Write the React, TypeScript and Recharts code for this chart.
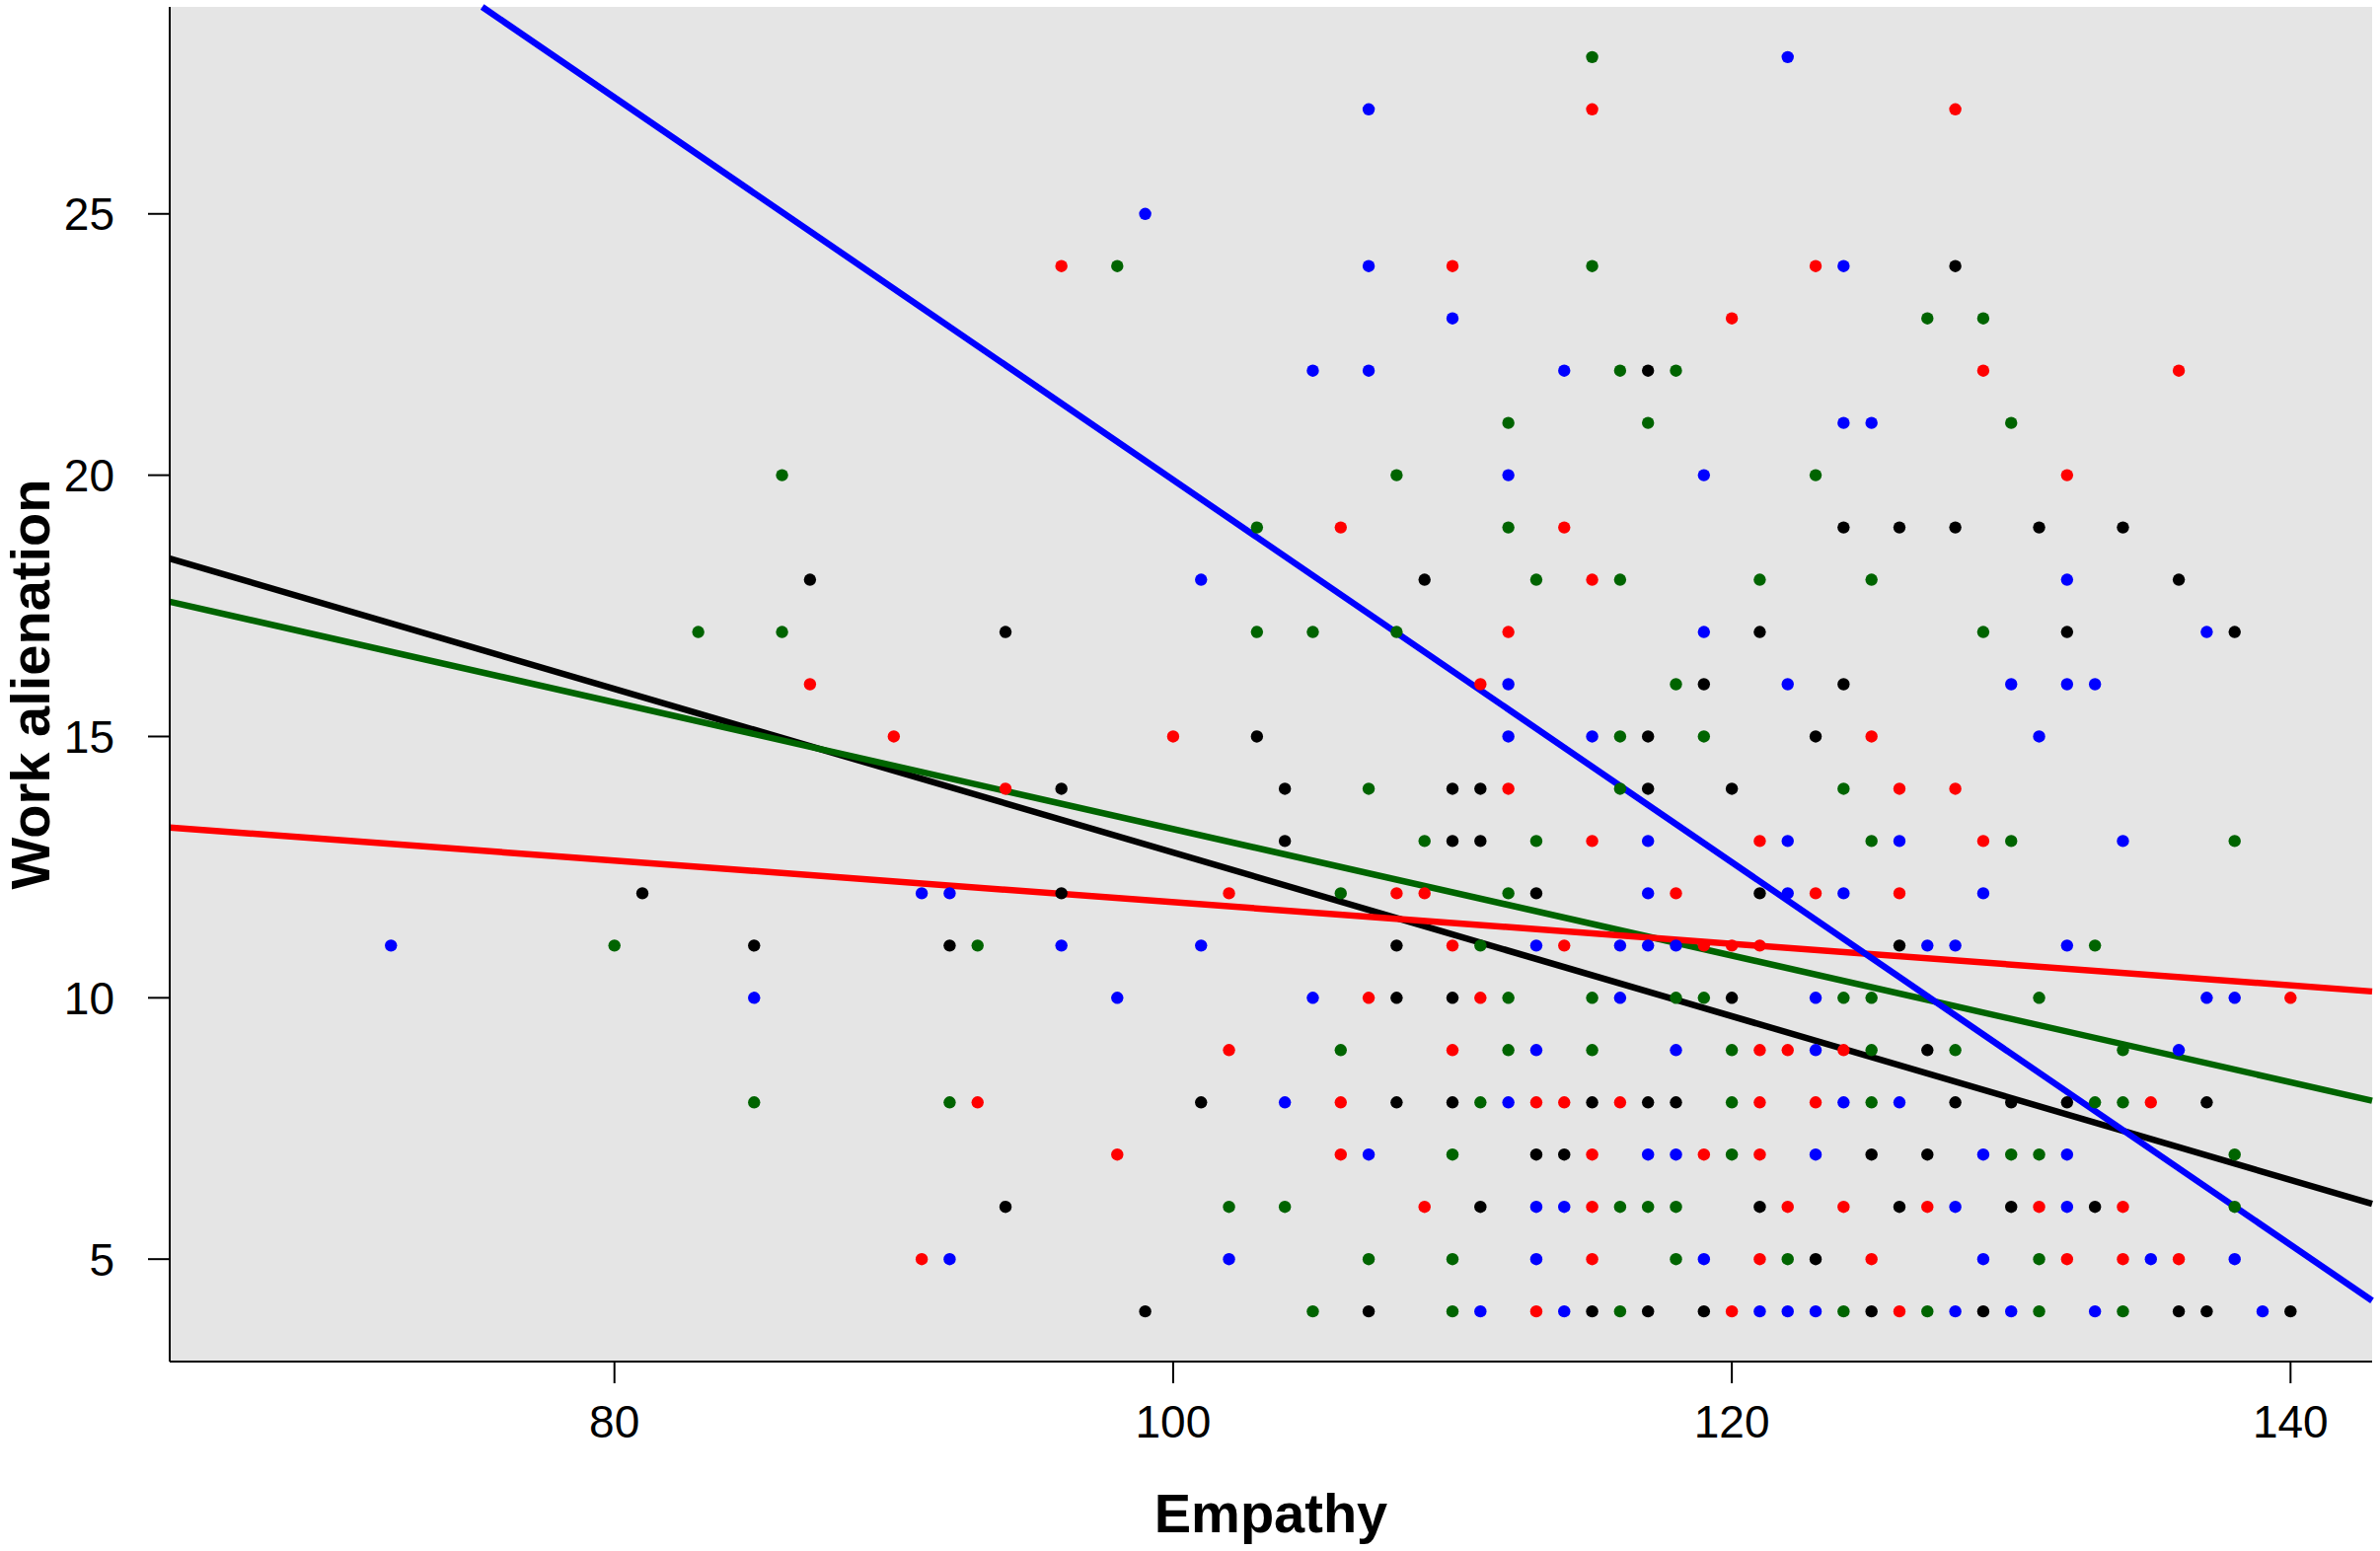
import React from 'react';
import { ScatterChart, Scatter, XAxis, YAxis, ReferenceArea, ReferenceLine } from 'recharts';

// Empathy (x) and work alienation (y) per group
const blackPts: [number, number][] = [
  [81, 12], [85, 11], [87, 18], [92, 11], [94, 17], [94, 6], [96, 14], [96, 12], [99, 4],
  [103, 15], [109, 18],
  [117, 22], [124, 19], [126, 19], [121, 17], [119, 16], [124, 16], [117, 15], [123, 15],
  [128, 24], [128, 19], [131, 19], [134, 19], [136, 18], [132, 17], [138, 17],
  [104, 14], [110, 14], [104, 13], [110, 13], [108, 11], [108, 10], [110, 10], [101, 8], [108, 8], [110, 8], [107, 4],
  [111, 14], [117, 14], [120, 14], [111, 13], [113, 12], [120, 10], [115, 8], [117, 8], [118, 8], [113, 7], [114, 7], [111, 6], [115, 4], [117, 4], [119, 4],
  [121, 12], [126, 11], [127, 9], [128, 8], [130, 8], [125, 7], [127, 7], [121, 6], [126, 6], [130, 6], [123, 5], [125, 4], [129, 4],
  [132, 8], [137, 8], [133, 6], [136, 4], [137, 4], [140, 4],
];

const greenPts: [number, number][] = [
  [80, 11], [83, 17], [86, 20], [86, 17], [85, 8], [92, 8], [93, 11], [98, 24],
  [112, 21], [108, 20], [103, 19], [112, 19], [113, 18], [103, 17], [105, 17], [108, 17],
  [115, 28], [115, 24], [127, 23], [116, 22], [118, 22], [117, 21], [123, 20], [116, 18], [121, 18], [125, 18], [118, 16], [116, 15], [119, 15],
  [129, 23], [130, 21], [129, 17],
  [107, 14], [109, 13], [106, 12], [106, 9], [110, 7], [102, 6], [104, 6], [107, 5], [110, 5], [105, 4], [110, 4],
  [116, 14], [113, 13], [112, 12], [111, 11], [112, 10], [115, 10], [118, 10], [119, 10], [112, 9], [115, 9], [120, 9], [111, 8], [120, 8], [120, 7], [116, 6], [117, 6], [118, 6], [118, 5], [116, 4],
  [124, 14], [125, 13], [130, 13], [124, 10], [125, 10], [125, 9], [128, 9], [125, 8], [130, 7], [122, 5], [124, 4], [127, 4],
  [138, 13], [133, 11], [131, 10], [134, 9], [133, 8], [134, 8], [131, 7], [138, 7], [138, 6], [131, 5], [131, 4], [134, 4],
];

const redPts: [number, number][] = [
  [87, 16], [90, 15], [91, 5], [93, 8], [94, 14], [96, 24], [98, 7], [100, 15],
  [110, 24], [106, 19], [112, 17], [111, 16],
  [115, 27], [123, 24], [120, 23], [114, 19], [115, 18], [125, 15],
  [128, 27], [129, 22], [136, 22], [132, 20],
  [102, 12], [108, 12], [109, 12], [110, 11], [107, 10], [102, 9], [110, 9], [106, 8], [106, 7], [109, 6],
  [112, 14], [115, 13], [118, 12], [114, 11], [119, 11], [120, 11], [111, 10], [113, 8], [114, 8], [116, 8], [115, 7], [119, 7], [115, 6], [115, 5], [113, 4], [120, 4],
  [126, 14], [128, 14], [121, 13], [129, 13], [123, 12], [126, 12], [121, 11], [121, 9], [122, 9], [124, 9], [121, 8], [123, 8], [121, 7], [122, 6], [124, 6], [127, 6], [121, 5], [125, 5], [126, 4],
  [140, 10], [135, 8], [131, 6], [134, 6], [132, 5], [134, 5], [136, 5],
];

const bluePts: [number, number][] = [
  [72, 11], [85, 10], [91, 12], [92, 12], [92, 5], [96, 11], [98, 10], [99, 25],
  [107, 27], [107, 24], [110, 23], [105, 22], [107, 22], [112, 20], [101, 18], [112, 16], [112, 15],
  [122, 28], [124, 24], [114, 22], [124, 21], [125, 21], [119, 20], [119, 17], [122, 16], [115, 15],
  [132, 18], [137, 17], [130, 16], [132, 16], [133, 16], [131, 15],
  [101, 11], [105, 10], [104, 8], [107, 7], [102, 5],
  [117, 13], [117, 12], [113, 11], [116, 11], [117, 11], [118, 11], [116, 10], [113, 9], [118, 9], [112, 8], [117, 7], [118, 7], [113, 6], [114, 6], [113, 5], [119, 5], [111, 4], [114, 4],
  [122, 13], [126, 13], [122, 12], [124, 12], [129, 12], [127, 11], [128, 11], [123, 10], [123, 9], [124, 8], [126, 8], [123, 7], [129, 7], [128, 6], [129, 5], [121, 4], [122, 4], [123, 4], [128, 4], [130, 4],
  [134, 13], [132, 11], [137, 10], [138, 10], [136, 9], [132, 7], [132, 6], [135, 5], [138, 5], [133, 4], [139, 4],
];

// regression lines: [intercept, slope]
const blackFit: [number, number] = [28.44, -0.1566];
const greenFit: [number, number] = [25.34, -0.1211];
const redFit: [number, number] = [15.81, -0.0398];
const blueFit: [number, number] = [56.5, -0.3659];

const X_DOMAIN: [number, number] = [64.08, 142.92];
const Y_DOMAIN: [number, number] = [3.04, 28.96];
const X_TICKS = [80, 100, 120, 140];
const Y_TICKS = [5, 10, 15, 20, 25];

const toObjs = (pts: [number, number][]) => pts.map(([x, y]) => ({ x, y }));

function clipFit([a, b]: [number, number]) {
  let xs = X_DOMAIN[0];
  let xe = X_DOMAIN[1];
  if (b !== 0) {
    const xa = (Y_DOMAIN[0] - a) / b;
    const xb = (Y_DOMAIN[1] - a) / b;
    xs = Math.max(xs, Math.min(xa, xb));
    xe = Math.min(xe, Math.max(xa, xb));
  }
  return [
    { x: xs, y: a + b * xs },
    { x: xe, y: a + b * xe },
  ];
}

const FONT = '"Liberation Sans", Arial, Helvetica, sans-serif';

const dot = (color: string) => (props: any) => (
  <circle cx={props.cx} cy={props.cy} r={6.2} fill={color} stroke="none" />
);

const YTitle = (props: any) => {
  const vb = props.viewBox || {};
  const cy = (vb.y ?? 7) + (vb.height ?? 1373) / 2;
  const x = 50;
  return (
    <text
      x={x}
      y={cy}
      transform={`rotate(-90, ${x}, ${cy})`}
      textAnchor="middle"
      fontFamily={FONT}
      fontWeight="bold"
      fontSize={56}
      fill="#000"
    >
      Work alienation
    </text>
  );
};

const XTitle = (props: any) => {
  const vb = props.viewBox || {};
  const cx = (vb.x ?? 172) + (vb.width ?? 2232) / 2;
  return (
    <text x={cx} y={1553} textAnchor="middle" fontFamily={FONT} fontWeight="bold" fontSize={56} fill="#000">
      Empathy
    </text>
  );
};

export default function App() {
  const tickStyle = { fill: '#000', fontSize: 46, fontFamily: FONT };
  return (
    <div style={{ position: 'absolute', left: 0, top: 0, width: 2412, height: 1572, background: '#fff' }}>
      <ScatterChart width={2412} height={1572} margin={{ top: 7, right: 8, bottom: 0, left: 0 }}>
        <ReferenceArea
          x1={X_DOMAIN[0]}
          x2={X_DOMAIN[1]}
          y1={Y_DOMAIN[0]}
          y2={Y_DOMAIN[1]}
          fill="#e5e5e5"
          fillOpacity={1}
          stroke="none"
          ifOverflow="visible"
        />
        <XAxis
          type="number"
          dataKey="x"
          domain={X_DOMAIN}
          ticks={X_TICKS}
          allowDataOverflow
          height={192}
          tickSize={22}
          tickMargin={22}
          tick={tickStyle}
          tickLine={{ stroke: '#000', strokeWidth: 2 }}
          axisLine={{ stroke: '#000', strokeWidth: 2 }}
          label={<XTitle />}
        />
        <YAxis
          type="number"
          dataKey="y"
          domain={Y_DOMAIN}
          ticks={Y_TICKS}
          allowDataOverflow
          width={172}
          tickSize={22}
          tickMargin={34}
          tick={tickStyle}
          tickLine={{ stroke: '#000', strokeWidth: 2 }}
          axisLine={{ stroke: '#000', strokeWidth: 2 }}
          label={<YTitle />}
        />
        <Scatter data={toObjs(blackPts)} shape={dot('#000000')} isAnimationActive={false} />
        <Scatter data={toObjs(greenPts)} shape={dot('#006400')} isAnimationActive={false} />
        <Scatter data={toObjs(redPts)} shape={dot('#ff0000')} isAnimationActive={false} />
        <Scatter data={toObjs(bluePts)} shape={dot('#0000ff')} isAnimationActive={false} />
        <ReferenceLine segment={clipFit(blackFit)} stroke="#000000" strokeWidth={6.5} ifOverflow="visible" />
        <ReferenceLine segment={clipFit(greenFit)} stroke="#006400" strokeWidth={6.5} ifOverflow="visible" />
        <ReferenceLine segment={clipFit(redFit)} stroke="#ff0000" strokeWidth={6.5} ifOverflow="visible" />
        <ReferenceLine segment={clipFit(blueFit)} stroke="#0000ff" strokeWidth={6.5} ifOverflow="visible" />
      </ScatterChart>
    </div>
  );
}
